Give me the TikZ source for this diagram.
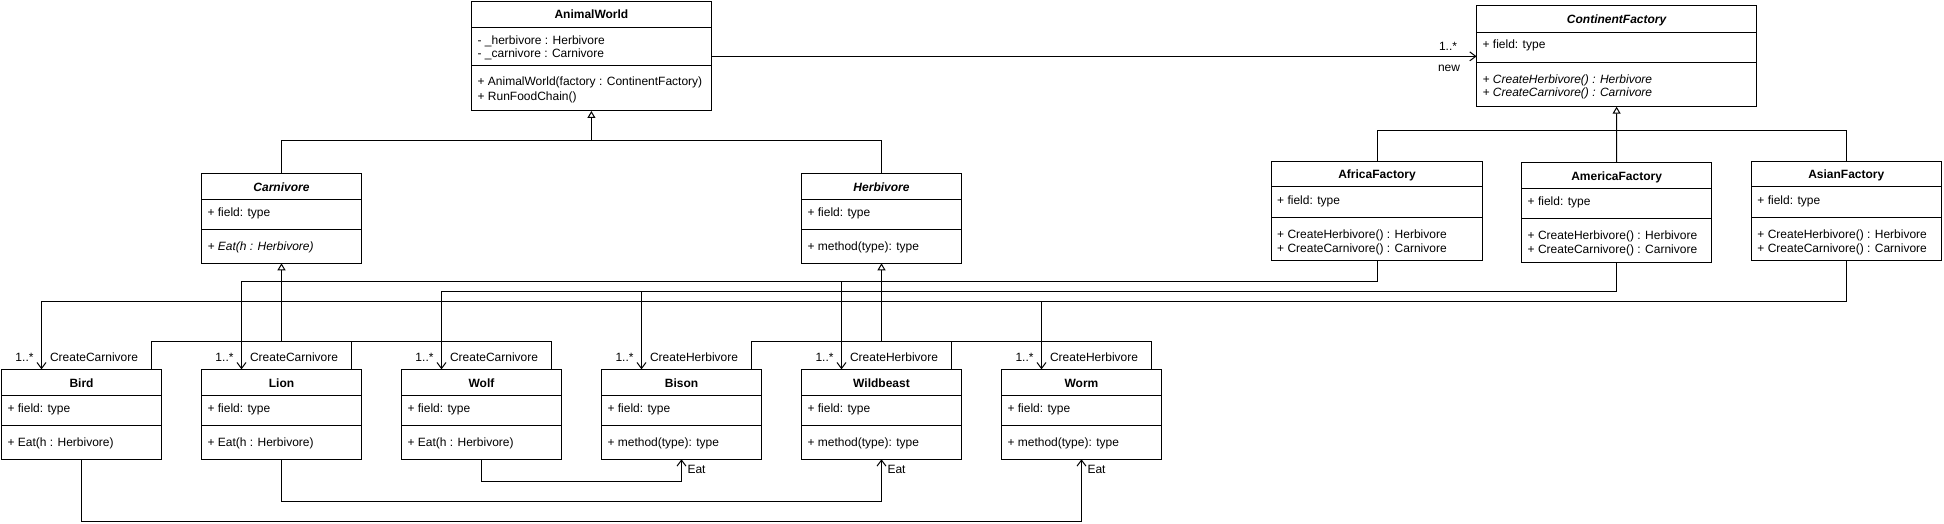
\documentclass[tikz,border=0pt]{standalone}
\usepackage{fontspec}
\setmainfont{Liberation Sans}
\usetikzlibrary{arrows.meta,calc}
\newcommand{\umlcls}[7]{%
  \node[box, minimum width=#4pt, minimum height=#5pt] (#1) at ({#2},{#3}) {};
  \draw[sepline] ({#2},{#3+#6}) -- ++(#4,0);
  \draw[sepline] ({#2},{#3+#7}) -- ++(#4,0);
}
\newcommand{\umlrow}[3]{\node[txt] at ({#1+5.5},{#2}) {#3};}
\begin{document}
\begin{tikzpicture}[x=1pt,y=-1pt,
  font=\fontsize{12}{14}\selectfont,
  line width=1pt,
  box/.style={draw=black, line width=1pt, fill=white, anchor=north west, inner sep=0pt, outer sep=0pt},
  sepline/.style={line width=1pt},
  txt/.style={anchor=base west, inner sep=0pt},
  ttl/.style={anchor=base, inner sep=0pt, font=\fontsize{12}{14}\selectfont\bfseries},
  attl/.style={anchor=base, inner sep=0pt, font=\fontsize{12}{14}\selectfont\bfseries\itshape},
  lbl/.style={anchor=base, inner sep=0pt},
  gen/.style={-{Triangle[open,length=7pt,width=8pt,fill=white]}},
  assoc/.style={-{Straight Barb[length=6pt,width=9pt]}},
]
\useasboundingbox (0,0) rectangle (1944,524);
\fill[white] (0,0) rectangle (1944,524);

% ---------- classes ----------
\umlcls{aw}{471.6}{1.3}{239.6}{109.7}{26}{64}
\node[ttl] at (591.4,18.8) {AnimalWorld};
\umlrow{471.6}{44.3}{- \_herbivore : Herbivore}
\umlrow{471.6}{57.6}{- \_carnivore : Carnivore}
\umlrow{471.6}{86}{+ AnimalWorld(factory : ContinentFactory)}
\umlrow{471.6}{100.3}{+ RunFoodChain()}

\umlcls{cf}{1476.6}{6}{280}{100.7}{26.5}{56.3}
\node[attl] at (1616.6,23.8) {ContinentFactory};
\umlrow{1476.6}{48.6}{+ field: type}
\umlrow{1476.6}{83.3}{\itshape + CreateHerbivore() : Herbivore}
\umlrow{1476.6}{97}{\itshape + CreateCarnivore() : Carnivore}

\umlcls{carn}{201.5}{173.3}{160}{90}{26}{56}
\node[attl] at (281.5,191) {Carnivore};
\umlrow{201.5}{216}{+ field: type}
\umlrow{201.5}{250.3}{\itshape + Eat(h : Herbivore)}

\umlcls{herb}{801.5}{173.3}{160}{90}{26}{56}
\node[attl] at (881.5,191) {Herbivore};
\umlrow{801.5}{216}{+ field: type}
\umlrow{801.5}{250.3}{+ method(type): type}

\umlcls{africa}{1271.2}{161.3}{211.6}{99.4}{25.4}{56}
\node[ttl] at (1377,178.6) {AfricaFactory};
\umlrow{1271.2}{204.3}{+ field: type}
\umlrow{1271.2}{238.3}{+ CreateHerbivore() : Herbivore}
\umlrow{1271.2}{252}{+ CreateCarnivore() : Carnivore}

\umlcls{america}{1521.7}{162.7}{189.8}{100}{25.6}{55.6}
\node[ttl] at (1616.6,180) {AmericaFactory};
\umlrow{1521.7}{205.6}{+ field: type}
\umlrow{1521.7}{239.6}{+ CreateHerbivore() : Herbivore}
\umlrow{1521.7}{253.2}{+ CreateCarnivore() : Carnivore}

\umlcls{asian}{1751.4}{161.3}{189.8}{99.4}{25.4}{56}
\node[ttl] at (1846.3,178.6) {AsianFactory};
\umlrow{1751.4}{204.3}{+ field: type}
\umlrow{1751.4}{238.3}{+ CreateHerbivore() : Herbivore}
\umlrow{1751.4}{252}{+ CreateCarnivore() : Carnivore}

\foreach \n/\x/\t/\m/\c in {bird/1.5/Bird/+ Eat(h : Herbivore)/CreateCarnivore,
                        lion/201.5/Lion/+ Eat(h : Herbivore)/CreateCarnivore,
                        wolf/401.5/Wolf/+ Eat(h : Herbivore)/CreateCarnivore,
                        bison/601.5/Bison/+ method(type): type/CreateHerbivore,
                        wild/801.5/Wildbeast/+ method(type): type/CreateHerbivore,
                        worm/1001.5/Worm/+ method(type): type/CreateHerbivore}{
  \umlcls{\n}{\x}{369.3}{160}{90}{26}{56}
  \node[ttl] at ({\x+80},387) {\t};
  \umlrow{\x}{412}{+ field: type}
  \umlrow{\x}{446}{\m}
  \node[lbl] (m\n) at ({\x+23},361.3) {1..*};
  \node[txt] (r\n) at ({\x+48},361.3) {\c};
}

% ---------- association AnimalWorld -> ContinentFactory ----------
\draw[assoc] (aw.east |- cf.west) -- (cf.west);
\node[lbl] (mult) at (1448,51) {1..*};
\node[lbl] (rnew) at (1449,72) {new};

% ---------- generalisation: Carnivore / Herbivore -> AnimalWorld ----------
\coordinate (j1) at ($(aw.south)+(0,30)$);
\draw (herb.north) |- (j1);
\draw[gen] (carn.north) |- (j1) -- (aw.south);

% ---------- generalisation: factories -> ContinentFactory ----------
\coordinate (j2) at ($(cf.south)+(0,24.3)$);
\draw (africa.north) |- (j2);
\draw (asian.north) |- (j2);
\draw[gen] (america.north) -- (cf.south);

% ---------- generalisation: subclasses ----------
\coordinate (jc) at ($(carn.south)+(0,77.7)$);
\coordinate (jh) at ($(herb.south)+(0,77.7)$);
\foreach \n in {bird,lion,wolf}{
  \draw ($(\n.north west)+(150,0)$) |- (jc);
}
\foreach \n in {bison,wild,worm}{
  \draw ($(\n.north west)+(150,0)$) |- (jh);
}
\draw[gen] (jc) -- (carn.south);
\draw[gen] (jh) -- (herb.south);

% ---------- factory create connectors ----------
\coordinate (la) at ($(africa.south)+(0,20.5)$);
\coordinate (lm) at ($(america.south)+(0,28.6)$);
\coordinate (ls) at ($(asian.south)+(0,40.6)$);
\draw[assoc] (africa.south) -- (la) -| ($(lion.north west)+(40,0)$);
\draw[assoc] (africa.south) -- (la) -| ($(wild.north west)+(40,0)$);
\draw[assoc] (america.south) -- (lm) -| ($(wolf.north west)+(40,0)$);
\draw[assoc] (america.south) -- (lm) -| ($(bison.north west)+(40,0)$);
\draw[assoc] (asian.south) -- (ls) -| ($(bird.north west)+(40,0)$);
\draw[assoc] (asian.south) -- (ls) -| ($(worm.north west)+(40,0)$);

% ---------- Eat connectors ----------
\draw[assoc] (wolf.south) -- ++(0,22.2) -| (bison.south);
\draw[assoc] (lion.south) -- ++(0,42) -| (wild.south);
\draw[assoc] (bird.south) -- ++(0,62) -| (worm.south);
\node[txt] (e1) at ($(bison.south)+(5.5,14)$) {Eat};
\node[txt] (e2) at ($(wild.south)+(5.5,14)$) {Eat};
\node[txt] (e3) at ($(worm.south)+(5.5,14)$) {Eat};
\end{tikzpicture}
\end{document}
